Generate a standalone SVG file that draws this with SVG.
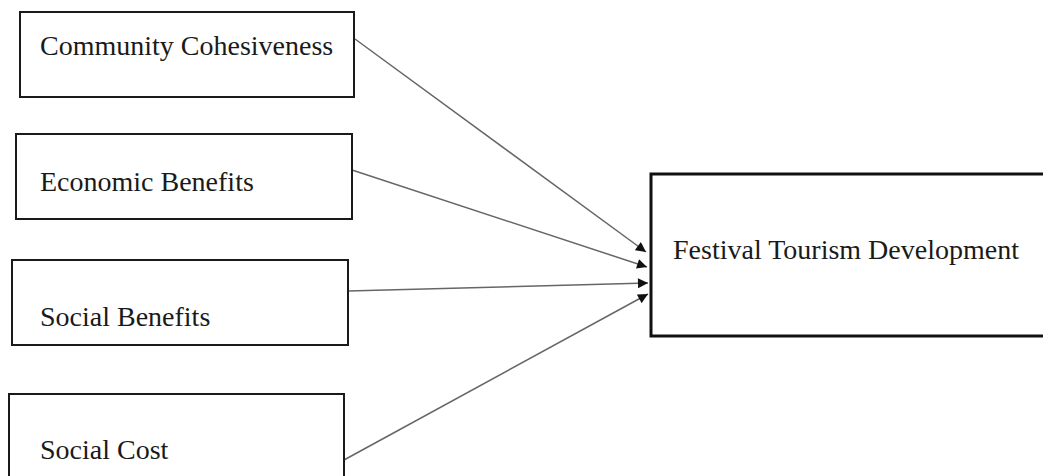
<svg xmlns="http://www.w3.org/2000/svg" width="1043" height="476" viewBox="0 0 1043 476">
<style>
.box{fill:#fff;stroke:#1a1a1a;stroke-width:2}
.main{fill:#fff;stroke:#111;stroke-width:3}
.lbl{font-family:"Liberation Serif","Times New Roman",serif;font-size:28px;fill:#1a1a1a}
.conn{stroke:#666;stroke-width:1.5;fill:none;marker-end:url(#ah)}
</style>
<defs>
<marker id="ah" viewBox="0 0 10 10" refX="10" refY="5" markerWidth="11" markerHeight="10" markerUnits="userSpaceOnUse" orient="auto">
<path d="M0,0 L10,5 L0,10 Z" fill="#111"/>
</marker>
</defs>
<rect width="1043" height="476" fill="#fff"/>
<g id="connectors">
<line class="conn" x1="355" y1="39" x2="646" y2="252"/>
<line class="conn" x1="352" y1="170" x2="647" y2="267"/>
<line class="conn" x1="348" y1="291" x2="648" y2="283"/>
<line class="conn" x1="344" y1="460" x2="648" y2="294"/>
</g>
<g id="community-cohesiveness">
<rect class="box" x="20" y="12" width="334" height="85"/>
<text class="lbl" x="40" y="55">Community Cohesiveness</text>
</g>
<g id="economic-benefits">
<rect class="box" x="16" y="134" width="336" height="85"/>
<text class="lbl" x="40" y="191">Economic Benefits</text>
</g>
<g id="social-benefits">
<rect class="box" x="12" y="260" width="336" height="85"/>
<text class="lbl" x="40" y="326">Social Benefits</text>
</g>
<g id="social-cost">
<rect class="box" x="9" y="394" width="335" height="90"/>
<text class="lbl" x="40" y="459">Social Cost</text>
</g>
<g id="festival-tourism-development">
<rect class="main" x="651" y="174" width="400" height="162"/>
<text class="lbl" x="673" y="259">Festival Tourism Development</text>
</g>
</svg>
